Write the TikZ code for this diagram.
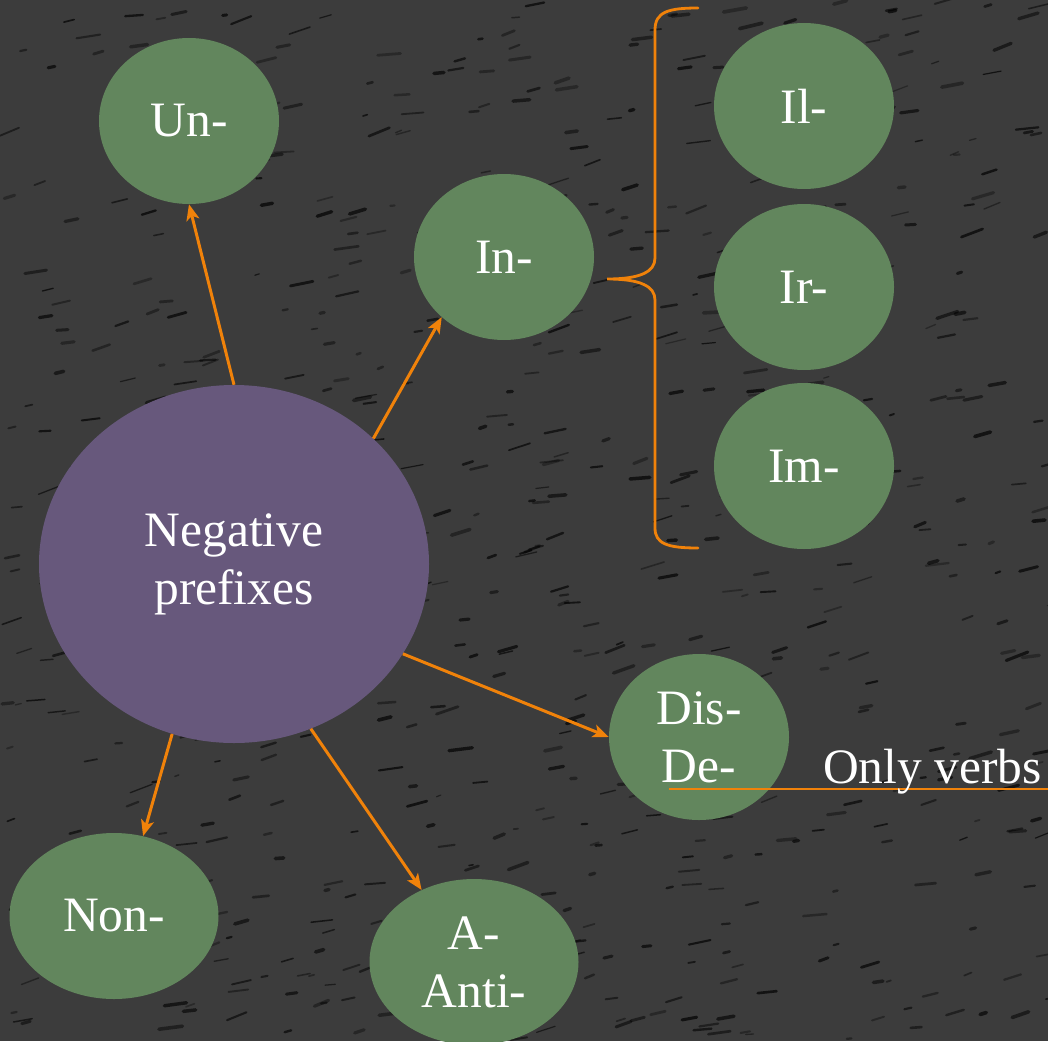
\documentclass[tikz,border=0pt]{standalone}
\usepackage{fontspec}
\setmainfont{Liberation Serif}
\usetikzlibrary{shapes.geometric,arrows.meta}
\definecolor{bgcol}{RGB}{60,60,60}
\definecolor{leaf}{RGB}{98,134,93}
\definecolor{hub}{RGB}{103,88,124}
\definecolor{accent}{RGB}{240,130,10}
\begin{document}
\begin{tikzpicture}[x=1pt,y=-1pt,
  bigfont/.style={font=\fontsize{49.5}{58}\selectfont},
  leafnode/.style={ellipse, fill=leaf, text=white, minimum width=180pt, minimum height=166pt, inner sep=0pt, align=center, bigfont},
  wideleaf/.style={leafnode, minimum width=209pt},
  hubnode/.style={ellipse, fill=hub, text=white, minimum width=390pt, minimum height=358pt, inner sep=0pt, align=center, bigfont},
  link/.style={draw=accent, line width=3pt, -{Stealth[length=16pt,width=13pt,inset=4pt]}},
  bracestyle/.style={draw=accent, line width=2.8pt, line cap=round},
  streak/.style={black, line cap=round}]
\fill[bgcol] (0,0) rectangle (1048,1041);
\useasboundingbox (0,0) rectangle (1048,1041);
% background texture
\pgfmathsetseed{7}
\foreach \i in {1,...,700}{
  \pgfmathsetmacro{\px}{rnd*1048}
  \pgfmathsetmacro{\py}{rnd*1041}
  \pgfmathsetmacro{\len}{4+rnd*20}
  \pgfmathsetmacro{\ang}{-3-rnd*20}
  \pgfmathsetmacro{\lw}{1.2+rnd*2.5}
  \pgfmathsetmacro{\op}{0.3+rnd*0.4}
  \draw[streak, line width=\lw pt, opacity=\op] (\px,\py) -- ++(\ang:\len);
}

\node[hubnode] (neg) at (234,564) {Negative\\prefixes};
\node[leafnode] (un) at (189,121) {Un-};
\node[leafnode] (in) at (504,257) {In-};
\node[leafnode] (il) at (804,106) {Il-};
\node[leafnode] (ir) at (804,287) {Ir-};
\node[leafnode] (im) at (804,466) {Im-};
\node[leafnode] (dis) at (699,737) {Dis-\\De-};
\node[wideleaf] (non) at (114,916) {Non-};
\node[wideleaf] (anti) at (474,962) {A-\\Anti-};

\draw[link] (neg.90) -- (un.-90);
\draw[link] (neg.42.8) -- (in.-136.8);
\draw[link] (neg.-28.5) -- (dis.180);
\draw[link] (neg.-110.3) -- (non.70.7);
\draw[link] (neg.-65.6) -- (anti.126);

% brace grouping Il-, Ir-, Im-
\draw[bracestyle] (698,8) .. controls (668,8) and (655,12) .. (655,30)
  -- (655,258) .. controls (655,272) and (640,279) .. (607,279)
  .. controls (640,279) and (655,286) .. (655,300)
  -- (655,528) .. controls (655,544) and (668,548) .. (698,548);

% underline for "Only verbs"
\coordinate (ulstart) at (669,789);
\coordinate (ulend) at (1048,789);
\draw[draw=accent, line width=2.8pt] (ulstart) -- (ulend);
\node[anchor=base west, inner sep=0pt, text=white, bigfont] (verbs) at (823,783) {Only verbs};
\end{tikzpicture}
\end{document}
